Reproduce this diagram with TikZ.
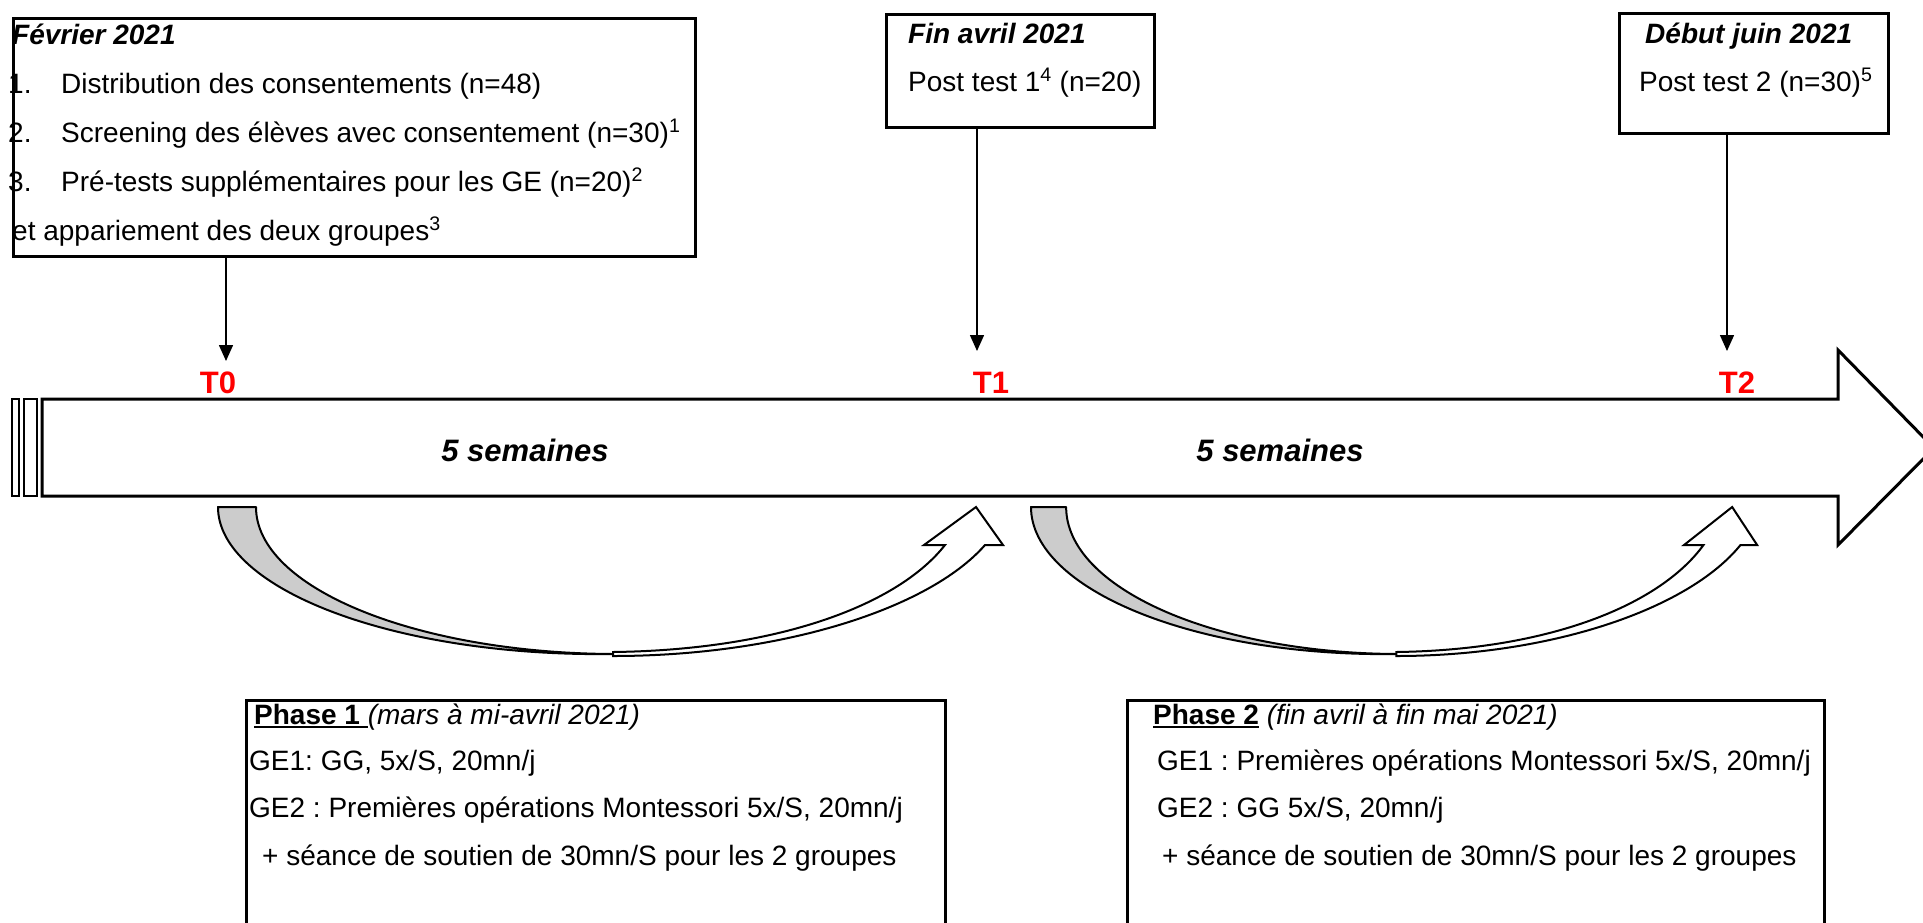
\documentclass[tikz,border=0pt]{standalone}
\usepackage{fontspec}
\setmainfont{Liberation Sans}
\usetikzlibrary{arrows.meta}
\frenchspacing
\newcommand\thickul[1]{\leavevmode\vtop{\hbox{#1}\kern2pt\hrule height 2.2pt}}
\newcommand\curvedarrowshape{%
  \filldraw[curvgray] (0,507) -- (38,507) .. controls (38,588) and (198,653) .. (395,654)
     .. controls (177,657) and (0,589) .. (0,507) -- cycle;
  \filldraw[curvwhite] (395,656) .. controls (560,656) and (710,610) .. (767,545)
     -- (785,545) -- (758,507) -- (706,545) -- (727,545)
     .. controls (680,605) and (560,650) .. (395,652) -- cycle;
}
\begin{document}
\begin{tikzpicture}[x=1pt,y=-1pt,
  box/.style={draw,line width=2.5pt,rectangle,inner sep=0pt,anchor=north west},
  txt/.style={anchor=base west,inner sep=0pt,font=\fontsize{28}{34}\selectfont},
  tlab/.style={anchor=base,inner sep=0pt,text=red,font=\fontsize{31}{36}\selectfont\bfseries},
  durlab/.style={anchor=base,inner sep=0pt,font=\fontsize{31}{36}\selectfont\bfseries\itshape},
  pin/.style={line width=1.5pt,-{Triangle[length=16pt,width=14pt]}},
  curvgray/.style={draw,line width=2pt,fill=black!20,line join=round},
  curvwhite/.style={draw,line width=2pt,fill=white,line join=miter},
]
\useasboundingbox (0,0) rectangle (1923,922);

% top boxes
\node[box,minimum width=682pt,minimum height=238pt] (feb) at (12,17) {};
\node[box,minimum width=268pt,minimum height=113pt] (post1) at (885,13) {};
\node[box,minimum width=269pt,minimum height=120pt] (post2) at (1618,12) {};

\node[txt] (febt) at (12,44) {\textbf{\textit{Février 2021}}};
\node[txt] (n1) at (8,93) {1.};
\node[txt] (l1) at (61,93) {Distribution des consentements (n=48)};
\node[txt] (n2) at (8,142) {2.};
\node[txt] (l2) at (61,142) {Screening des élèves avec consentement (n=30)\textsuperscript{1}};
\node[txt] (n3) at (8,191) {3.};
\node[txt] (l3) at (61,191) {Pré-tests supplémentaires pour les GE (n=20)\textsuperscript{2}};
\node[txt] (l4) at (12,240) {et appariement des deux groupes\textsuperscript{3}};

\node[txt] (p1t) at (908,43) {\textbf{\textit{Fin avril 2021}}};
\node[txt] (p1l) at (908,91) {Post test 1\textsuperscript{4} (n=20)};
\node[txt] (p2t) at (1645,43) {\textbf{\textit{Début juin 2021}}};
\node[txt] (p2l) at (1639,91) {Post test 2 (n=30)\textsuperscript{5}};

% main arrow
\draw[line width=2.5pt] (12,399) rectangle (19,496);
\draw[line width=2.5pt] (24,399) rectangle (37,496);
\draw[line width=3pt,fill=white,line join=miter] (42,399) -- (1838,399) -- (1838,350)
   -- (1934,448) -- (1838,545) -- (1838,496) -- (42,496) -- cycle;

% pins
\coordinate (a0) at (226,361);
\coordinate (a1) at (977,351);
\coordinate (a2) at (1727,351);
\draw[pin] (feb.south -| a0) -- (a0);
\draw[pin] (post1.south -| a1) -- (a1);
\draw[pin] (post2.south -| a2) -- (a2);

\node[tlab] (T0) at (218,393) {T0};
\node[tlab] (T1) at (991,393) {T1};
\node[tlab] (T2) at (1737,393) {T2};

\node[durlab] (d1) at (525,461) {5 semaines};
\node[durlab] (d2) at (1280,461) {5 semaines};

% curved arrows
\begin{scope}[shift={(218,0)}]
  \curvedarrowshape
\end{scope}
\begin{scope}[shift={(1031,0)},xscale=0.925]
  \curvedarrowshape
\end{scope}

% phase boxes
\node[box,minimum width=699pt,minimum height=260pt] (ph1) at (245,699) {};
\node[box,minimum width=697pt,minimum height=260pt] (ph2) at (1126,699) {};

\node[txt] (ph1a) at (254,724) {\thickul{\textbf{Phase 1 }}\textit{(mars à mi-avril 2021)}};
\node[txt] (ph1b) at (249,770) {GE1: GG, 5x/S, 20mn/j};
\node[txt] (ph1c) at (249,817) {GE2 : Premières opérations Montessori 5x/S, 20mn/j};
\node[txt] (ph1d) at (262,865) {+ séance de soutien de 30mn/S pour les 2 groupes};

\node[txt] (ph2a) at (1153,724) {\thickul{\textbf{Phase 2}} \textit{(fin avril à fin mai 2021)}};
\node[txt] (ph2b) at (1157,770) {GE1 : Premières opérations Montessori 5x/S, 20mn/j};
\node[txt] (ph2c) at (1157,817) {GE2 : GG 5x/S, 20mn/j};
\node[txt] (ph2d) at (1162,865) {+ séance de soutien de 30mn/S pour les 2 groupes};
\end{tikzpicture}
\end{document}
